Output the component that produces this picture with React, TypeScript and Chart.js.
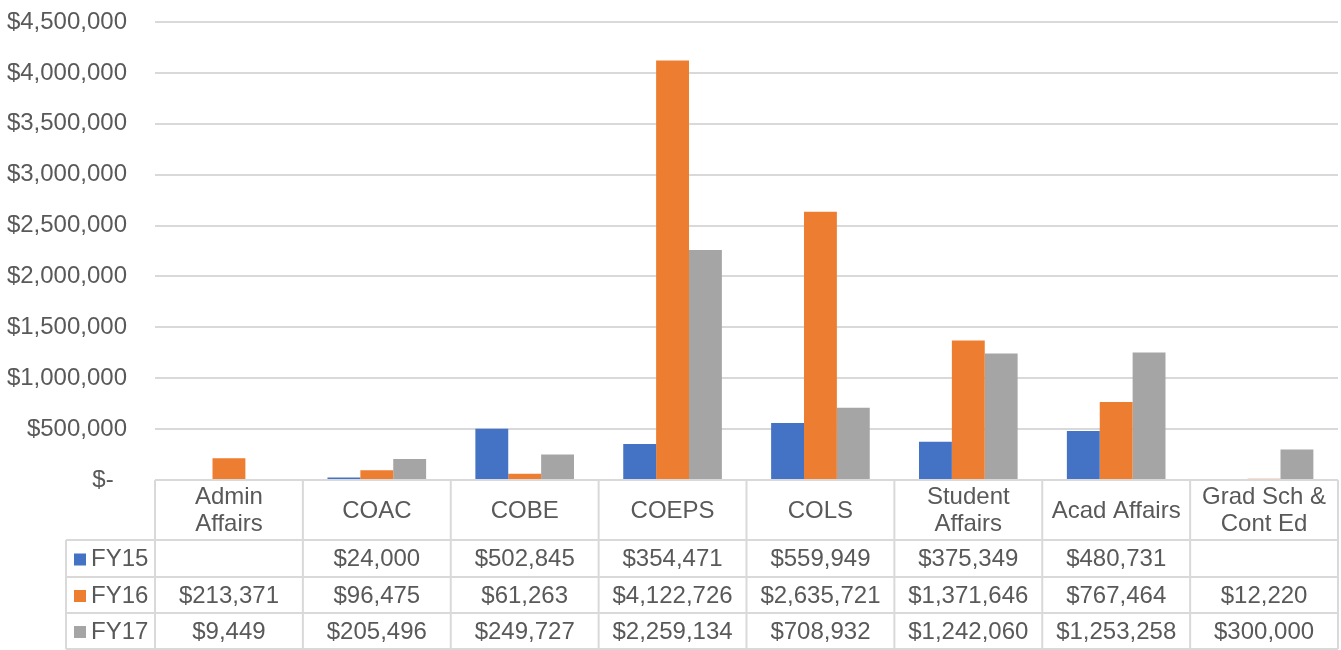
import React, { useEffect, useRef } from "react";
import { Chart, registerables } from "chart.js";

Chart.register(...registerables);

const categories: string[][] = [
  ["Admin", "Affairs"],
  ["COAC"],
  ["COBE"],
  ["COEPS"],
  ["COLS"],
  ["Student", "Affairs"],
  ["Acad Affairs"],
  ["Grad Sch &", "Cont Ed"],
];

const seriesNames = ["FY15", "FY16", "FY17"];
const fy15: (number | null)[] = [null, 24000, 502845, 354471, 559949, 375349, 480731, null];
const fy16: (number | null)[] = [213371, 96475, 61263, 4122726, 2635721, 1371646, 767464, 12220];
const fy17: (number | null)[] = [9449, 205496, 249727, 2259134, 708932, 1242060, 1253258, 300000];
const colors = ["#4472C4", "#ED7D31", "#A5A5A5"];

const yMax = 4500000;
const yStep = 500000;

const FONT = '"Liberation Sans", Arial, sans-serif';
const TEXT = "#595959";
const LINE = "#d9d9d9";

const fmt = (v: number | null) => (v === null ? "" : "$" + v.toLocaleString("en-US"));

const tablePlugin = {
  id: "dataTable",
  afterDraw(chart: any) {
    const ctx: CanvasRenderingContext2D = chart.ctx;
    const area = chart.chartArea;
    const xs = chart.scales.x;
    const n = categories.length;
    const w = (area.right - area.left) / n;
    const top = area.bottom;
    const headerBottom = top + 60;
    const rowH = 36;
    const rowsY = [headerBottom, headerBottom + rowH + 1, headerBottom + 2 * rowH + 1, headerBottom + 3 * rowH + 1];
    const legendLeft = 66;
    const all = [fy15, fy16, fy17];

    ctx.save();
    ctx.strokeStyle = LINE;
    ctx.lineWidth = 2;
    ctx.beginPath();
    ctx.moveTo(area.left, top);
    ctx.lineTo(area.right, top);
    rowsY.forEach((y) => {
      ctx.moveTo(legendLeft, y);
      ctx.lineTo(area.right, y);
    });
    for (let i = 0; i <= n; i++) {
      const x = area.left + i * w;
      ctx.moveTo(x, top);
      ctx.lineTo(x, rowsY[3]);
    }
    ctx.moveTo(legendLeft, rowsY[0]);
    ctx.lineTo(legendLeft, rowsY[3]);
    ctx.stroke();

    ctx.fillStyle = TEXT;
    ctx.font = `24px ${FONT}`;
    ctx.textBaseline = "middle";
    ctx.textAlign = "center";
    categories.forEach((lines, i) => {
      const cx = xs.getPixelForValue(i);
      const cy = (top + headerBottom) / 2 + 1;
      const lh = 27;
      lines.forEach((ln, j) => {
        ctx.fillText(ln, cx, cy + (j - (lines.length - 1) / 2) * lh);
      });
    });
    all.forEach((data, r) => {
      const cy = (rowsY[r] + rowsY[r + 1]) / 2 + 1;
      ctx.textAlign = "center";
      ctx.fillStyle = TEXT;
      data.forEach((v, i) => {
        ctx.fillText(fmt(v), xs.getPixelForValue(i), cy);
      });
      ctx.fillStyle = colors[r];
      ctx.fillRect(74, cy - 6, 12, 12);
      ctx.fillStyle = TEXT;
      ctx.textAlign = "left";
      ctx.fillText(seriesNames[r], 91, cy);
    });
    ctx.restore();
  },
};

export default function App() {
  const ref = useRef<HTMLCanvasElement | null>(null);
  useEffect(() => {
    document.body.style.margin = "0";
    const canvas = ref.current!;
    const chart = new Chart(canvas, {
      type: "bar",
      data: {
        labels: categories,
        datasets: [fy15, fy16, fy17].map((d, i) => ({
          label: seriesNames[i],
          data: d,
          backgroundColor: colors[i],
          borderWidth: 0,
          categoryPercentage: 0.667,
          barPercentage: 1,
        })),
      },
      options: {
        animation: false,
        responsive: false,
        maintainAspectRatio: false,
        layout: { padding: { left: 0, right: 3, top: 22, bottom: 170 } },
        plugins: { legend: { display: false }, tooltip: { enabled: false } },
        scales: {
          x: { display: false },
          y: {
            min: 0,
            max: yMax,
            border: { display: false },
            grid: { color: LINE, lineWidth: 2, drawTicks: true, tickLength: 28, tickColor: "rgba(0,0,0,0)" },
            afterFit: (s: any) => {
              s.width = 155;
            },
            ticks: {
              stepSize: yStep,
              padding: 0,
              color: TEXT,
              font: { family: FONT, size: 24 },
              callback: (v: any) => (Number(v) === 0 ? "$-  " : "$" + Number(v).toLocaleString("en-US")),
            },
          },
        },
      },
      plugins: [tablePlugin],
    });
    return () => chart.destroy();
  }, []);
  return <canvas ref={ref} width={1341} height={650} style={{ display: "block" }} />;
}
